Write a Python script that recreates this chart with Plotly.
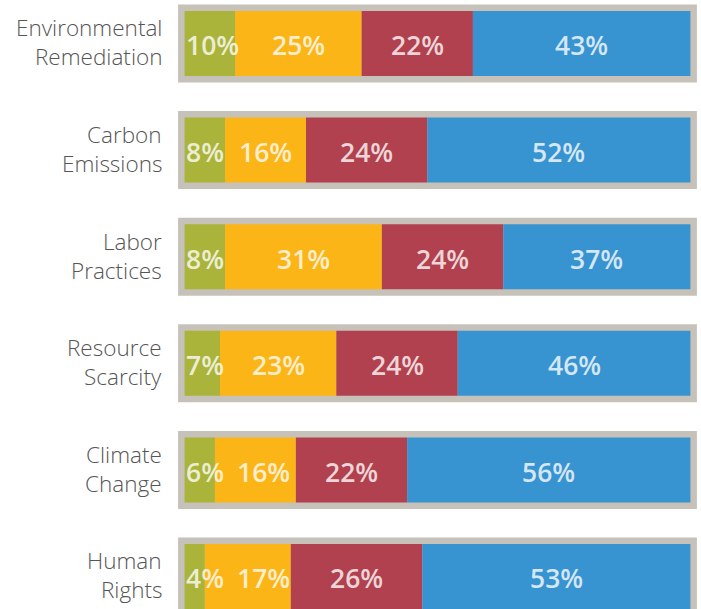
import plotly.graph_objects as go

# ---- data ----
categories = ["Environmental<br>Remediation", "Carbon<br>Emissions", "Labor<br>Practices",
              "Resource<br>Scarcity", "Climate<br>Change", "Human<br>Rights"]
series_names = ["Green", "Yellow", "Red", "Blue"]
green = [10, 8, 8, 7, 6, 4]
yellow = [25, 16, 31, 23, 16, 17]
red = [22, 24, 24, 24, 22, 26]
blue = [43, 52, 37, 46, 56, 53]

series = [green, yellow, red, blue]
colors = ["#abb43a", "#fbb517", "#b1414e", "#3893d1"]
frame_color = "#c6c1b9"

W, H = 701, 609
ML, MR = 177, 3
XR = [-1.5, 101.5]
px_per_unit = (W - ML - MR) / (XR[1] - XR[0])
ypos = list(range(len(categories)))
BAR_W = 0.61

fig = go.Figure()
totals = [sum(s[i] for s in series) for i in ypos]
fig.add_trace(go.Bar(
    y=ypos, x=totals, base=[0] * len(ypos), orientation="h", width=BAR_W,
    marker=dict(color=frame_color, line=dict(color=frame_color, width=13)),
    hoverinfo="skip", showlegend=False))

bases = [[0] * len(ypos)]
for s in series[:-1]:
    bases.append([b + v for b, v in zip(bases[-1], s)])

for name, s, b, c in zip(series_names, series, bases, colors):
    fig.add_trace(go.Bar(
        y=ypos, x=s, base=b, orientation="h", width=BAR_W, name=name,
        marker=dict(color=c, line=dict(width=0)), showlegend=False))

# value labels, centred on segments, nudged to avoid overlap
FS = 26.5
def text_w(t):
    return sum(0.82 * FS if ch == "%" else 0.57 * FS for ch in t) / px_per_unit

annotations = []
gap = 14 / px_per_unit
pad = 2 / px_per_unit
for i in ypos:
    prev_right = 0 + pad - gap
    for s, b in zip(series, bases):
        t = f"{s[i]}%"
        w = text_w(t)
        c = b[i] + s[i] / 2
        left = max(c - w / 2, prev_right + gap)
        prev_right = left + w
        annotations.append(dict(
            x=left + w / 2, y=i, xref="x", yref="y", text=t, showarrow=False,
            xanchor="center", yanchor="middle", yshift=-2,
            font=dict(family="Open Sans", size=FS, weight=600,
                      color="rgba(255,255,255,0.78)")))

# category labels (two lines each)
for i, cat in zip(ypos, categories):
    lines = cat.split("<br>")
    for k, ln in enumerate(lines):
        off = (k - (len(lines) - 1) / 2) * 29
        annotations.append(dict(
            x=0, y=i, xref="x", yref="y", text=ln, showarrow=False,
            xanchor="right", yanchor="middle", xshift=-21, yshift=-off + 1,
            font=dict(family="Open Sans", size=22.5, weight=300, color="#555555")))

fig.update_layout(
    width=W, height=H, barmode="overlay",
    margin=dict(l=ML, r=MR, t=0, b=0, pad=0),
    paper_bgcolor="white", plot_bgcolor="white",
    xaxis=dict(range=XR, visible=False, fixedrange=True),
    yaxis=dict(range=[5.305, -0.408], visible=False, fixedrange=True),
    annotations=annotations, showlegend=False)

fig.write_html("out.html", config={"displayModeBar": False},
               post_script="document.body.style.margin='0';document.body.style.overflow='hidden';")
